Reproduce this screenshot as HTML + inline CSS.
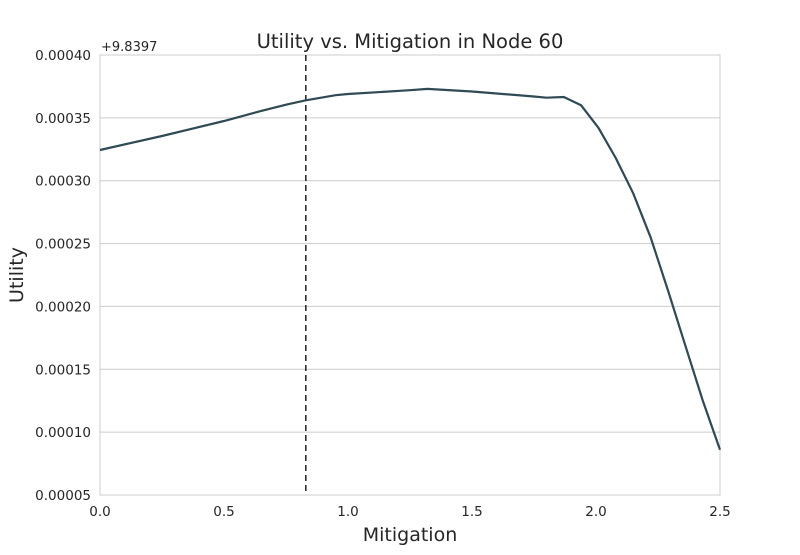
<!DOCTYPE html>
<html><head><meta charset="utf-8"><style>
body{margin:0;background:#fff;font-family:"Liberation Sans","DejaVu Sans",sans-serif;}
</style></head><body>
<svg width="800" height="550" xmlns="http://www.w3.org/2000/svg" font-family="DejaVu Sans, Liberation Sans, sans-serif">
<g id="grid"></g>
<rect x="100" y="55" width="620" height="440" fill="none" stroke="#cccccc" stroke-width="1"/>
<g id="ticks"></g>
<line id="vline" stroke="#000" stroke-width="1.3" stroke-dasharray="6,4"/>
<path id="curve" fill="none" stroke="#2f4a55" stroke-width="2.2"/>
<text x="410" y="48" font-size="19.5" text-anchor="middle" fill="#262626">Utility vs. Mitigation in Node 60</text>
<text x="101" y="51" font-size="13" fill="#262626">+9.8397</text>
<text x="410" y="541" font-size="19" text-anchor="middle" fill="#262626">Mitigation</text>
<text transform="translate(23,275) rotate(-90)" font-size="19" text-anchor="middle" fill="#262626">Utility</text>
</svg>
<script>
const xs=[0,0.25,0.5,0.65,0.75,0.83,0.95,1.0,1.25,1.32,1.5,1.75,1.8,1.87,1.94,2.01,2.08,2.15,2.22,2.29,2.36,2.43,2.5];
const ys=[32.44,33.56,34.75,35.55,36.05,36.4,36.8,36.9,37.2,37.3,37.1,36.7,36.6,36.66,36.0,34.2,31.8,29.0,25.5,21.3,16.9,12.55,8.6];
const xTicks=[0,0.5,1.0,1.5,2.0,2.5];
const yTicks=[5,10,15,20,25,30,35,40];
const yTickLabels=["0.00005","0.00010","0.00015","0.00020","0.00025","0.00030","0.00035","0.00040"];
const markerX=[0.83];
const NS="http://www.w3.org/2000/svg";
const sx=v=>100+v/2.5*620, sy=v=>495-(v-5)/35*440;
const grid=document.getElementById('grid'), ticks=document.getElementById('ticks');
yTicks.forEach((t,i)=>{
 const l=document.createElementNS(NS,'line');
 l.setAttribute('x1',100);l.setAttribute('x2',720);l.setAttribute('y1',sy(t));l.setAttribute('y2',sy(t));
 l.setAttribute('stroke','#cccccc');
 
 
 grid.appendChild(l);
 const tx=document.createElementNS(NS,'text');
 tx.setAttribute('x',91);tx.setAttribute('y',sy(t)+5);tx.setAttribute('font-size','13.5');tx.setAttribute('text-anchor','end');tx.setAttribute('fill','#262626');
 tx.textContent=yTickLabels[i];
 
 
 ticks.appendChild(tx);
});
xTicks.forEach(t=>{
 const tx=document.createElementNS(NS,'text');
 tx.setAttribute('x',sx(t));tx.setAttribute('y',516);tx.setAttribute('font-size','13.5');tx.setAttribute('text-anchor','middle');tx.setAttribute('fill','#262626');
 tx.textContent=t.toFixed(1);
 
 
 ticks.appendChild(tx);
});
const v=document.getElementById('vline');
v.setAttribute('x1',sx(markerX[0]));v.setAttribute('x2',sx(markerX[0]));v.setAttribute('y1',55);v.setAttribute('y2',495);
document.getElementById('curve').setAttribute('d',xs.map((x,i)=>(i?'L':'M')+sx(x).toFixed(1)+' '+sy(ys[i]).toFixed(1)).join(' '));
</script>
</body></html>
